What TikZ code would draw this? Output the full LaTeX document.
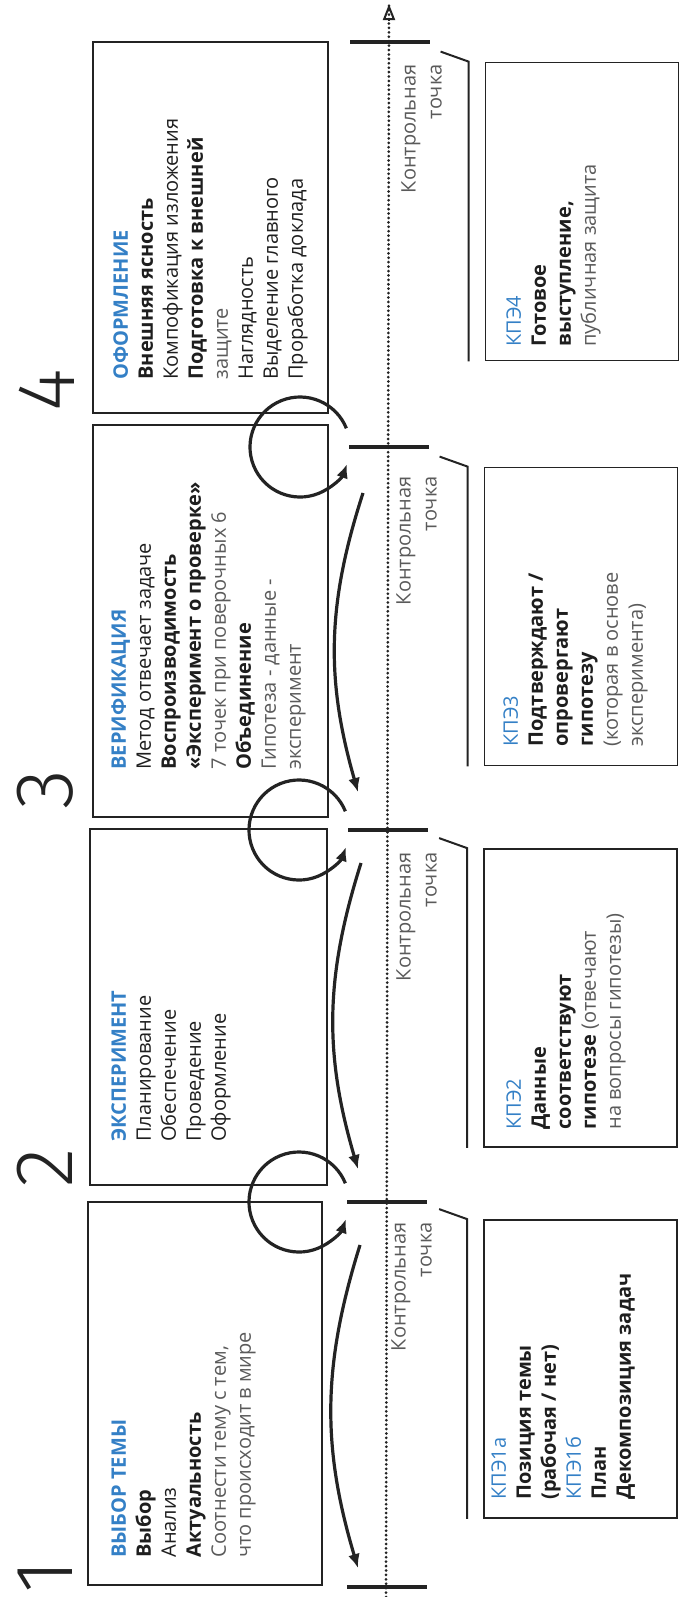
\documentclass[tikz,border=0pt]{standalone}
\usepackage{fontspec}
\setmainfont{Open Sans}
\newfontfamily\numfont{Fira Sans Light}
\usetikzlibrary{arrows.meta}

\definecolor{titleblue}{RGB}{52,128,198}
\definecolor{darktext}{RGB}{30,30,30}
\definecolor{lighttext}{RGB}{90,90,90}
\definecolor{linegray}{RGB}{35,35,35}

\newcommand{\headtxt}[1]{\textcolor{titleblue}{#1}}
\newcommand{\softtxt}[1]{\textcolor{lighttext}{#1}}

\tikzset{
  stagebox/.style={draw=linegray, line width=0.9pt, inner sep=0pt},
  kpebox/.style={draw=linegray, line width=0.9pt, inner sep=0pt, minimum width=96.5pt, minimum height=149pt},
  stagetext/.style={rotate=90, anchor=north west, inner sep=0pt, align=left, text=darktext, font=\fontsize{10}{12.5}\selectfont},
  cplabel/.style={rotate=90, anchor=north east, inner sep=0pt, align=right, text=lighttext, font=\fontsize{10}{13}\selectfont},
  stepnum/.style={rotate=90, anchor=base, inner sep=0pt, text=linegray, font=\numfont\fontsize{41}{41}\selectfont},
  tickline/.style={linegray, line width=2.2pt},
  timeline/.style={linegray, line width=1.5pt, line cap=round, dash pattern=on 0.01pt off 2.2pt},
  bentarrow/.style={linegray, line width=1.6pt, -{Latex[length=7pt,width=6pt]}},
  roundarrow/.style={linegray, line width=1.6pt, -{Latex[length=7pt,width=6pt]}},
  bracketline/.style={linegray, line width=1pt},
}

\begin{document}
\begin{tikzpicture}[x=0.5pt,y=0.5pt]
\useasboundingbox (0,0) rectangle (679,-1597);

% time axis with its control points
\coordinate (tlbot) at (386,-1597);
\coordinate (tltop) at (389,-4);
\draw [timeline] (tlbot)--(tltop);
\draw [linegray, line width=1pt, -{Triangle[open,length=8pt,width=6pt]}] ([yshift=-8pt]tltop)--(tltop);

\coordinate (t0) at (387,-1587);
\coordinate (t1) at (387,-1202);
\coordinate (t2) at (388,-830);
\coordinate (t3) at (389,-447);
\coordinate (t4) at (390,-42);
\foreach \t in {t0,t1,t2,t3,t4}
  \draw [tickline] ([xshift=-20pt]\t)--([xshift=20pt]\t);

% labels of the control points
\node [cplabel] (cp1) at (391,-1222) {Контрольная\\точка};
\node [cplabel] (cp2) at (396,-852) {Контрольная\\точка};
\node [cplabel] (cp3) at (396,-476) {Контрольная\\точка};
\node [cplabel] (cp4) at (401,-64) {Контрольная\\точка};

% stage numbers
\node [stepnum] (num1) at (72,-1577) {1};
\node [stepnum] (num2) at (72,-1168) {2};
\node [stepnum] (num3) at (72,-790) {3};
\node [stepnum] (num4) at (74,-390) {4};

% stage boxes
\node [stagebox, minimum width=117pt, minimum height=191.5pt] (stage1) at (205,-1393.5) {};
\node [stagebox, minimum width=118.5pt, minimum height=178pt] (stage2) at (208.5,-1007) {};
\node [stagebox, minimum width=117.5pt, minimum height=196pt] (stage3) at (210.5,-621) {};
\node [stagebox, minimum width=117.5pt, minimum height=185.5pt] (stage4) at (210.5,-227.5) {};

\node [stagetext] (txt1) at (111,-1558) {\headtxt{\bfseries ВЫБОР ТЕМЫ}\\
  \textbf{Выбор}\\ Анализ\\ \textbf{Актуальность}\\
  \softtxt{Соотнести тему с тем,}\\ \softtxt{что происходит в мире}};
\node [stagetext] (txt2) at (111,-1142) {\headtxt{\bfseries ЭКСПЕРИМЕНТ}\\
  Планирование\\ Обеспечение\\ Проведение\\ Оформление};
\node [stagetext] (txt3) at (111,-770) {\headtxt{\bfseries ВЕРИФИКАЦИЯ}\\
  Метод отвечает задаче\\ \textbf{Воспроизводимость}\\
  \textbf{«Эксперимент о проверке»}\\ \softtxt{7 точек при поверочных 6}\\
  \textbf{Объединение}\\ \softtxt{Гипотеза - данные -}\\ \softtxt{эксперимент}};
\node [stagetext] (txt4) at (113,-380) {\headtxt{\bfseries ОФОРМЛЕНИЕ}\\
  \textbf{Внешняя ясность}\\ Компофикация изложения\\
  \textbf{Подготовка к внешней}\\ \softtxt{защите}\\ Наглядность\\
  Выделение главного\\ Проработка доклада};

% boxes with the key results
\node [kpebox] (kpe1) at (580.5,-1369) {};
\node [kpebox] (kpe2) at (580.5,-998) {};
\node [kpebox] (kpe3) at (581,-616.5) {};
\node [kpebox] (kpe4) at (582,-211.5) {};

\node [stagetext] (ktxt1) at (491,-1500) {\headtxt{КПЭ1а}\\
  \textbf{Позиция темы}\\ \textbf{(рабочая / нет)}\\ \headtxt{КПЭ1б}\\
  \textbf{План}\\ \textbf{Декомпозиция задач}};
\node [stagetext] (ktxt2) at (506,-1130) {\headtxt{КПЭ2}\\
  \textbf{Данные}\\ \textbf{соответствуют}\\
  \textbf{гипотезе} \softtxt{(отвечают}\\ \softtxt{на вопросы гипотезы)}};
\node [stagetext] (ktxt3) at (503,-747) {\headtxt{КПЭ3}\\
  \textbf{Подтверждают /}\\ \textbf{опровергают}\\ \textbf{гипотезу}\\
  \softtxt{(которая в основе}\\ \softtxt{эксперимента)}};
\node [stagetext] (ktxt4) at (506,-347) {\headtxt{КПЭ4}\\
  \textbf{Готовое}\\ \textbf{выступление,}\\ \softtxt{публичная защита}};

% brackets from the control points to the result boxes
\foreach \k in {kpe1,kpe2,kpe3,kpe4}
  \draw [bracketline] ([xshift=-22pt,yshift=5pt]\k.north west)--([xshift=-8pt]\k.north west)--([xshift=-8pt]\k.south west);

% returns back along the axis
\coordinate (a1s) at (360,-1245);
\coordinate (a1e) at (358,-1568);
\coordinate (a2s) at (361,-863);
\coordinate (a2e) at (358,-1169);
\coordinate (a3s) at (363,-493);
\coordinate (a3e) at (358,-792);
\draw [bentarrow] (a1s) to [bend right=17] (a1e);
\draw [bentarrow] (a2s) to [bend right=17] (a2e);
\draw [bentarrow] (a3s) to [bend right=17] (a3e);

% loops at the control points
\coordinate (c1) at (299,-1202);
\coordinate (c2) at (299,-830);
\coordinate (c3) at (300,-447);
\foreach \c in {c1,c2,c3}
  \draw [roundarrow] (\c) ++(22:50) arc [start angle=22, end angle=340, radius=50];

\end{tikzpicture}
\end{document}
